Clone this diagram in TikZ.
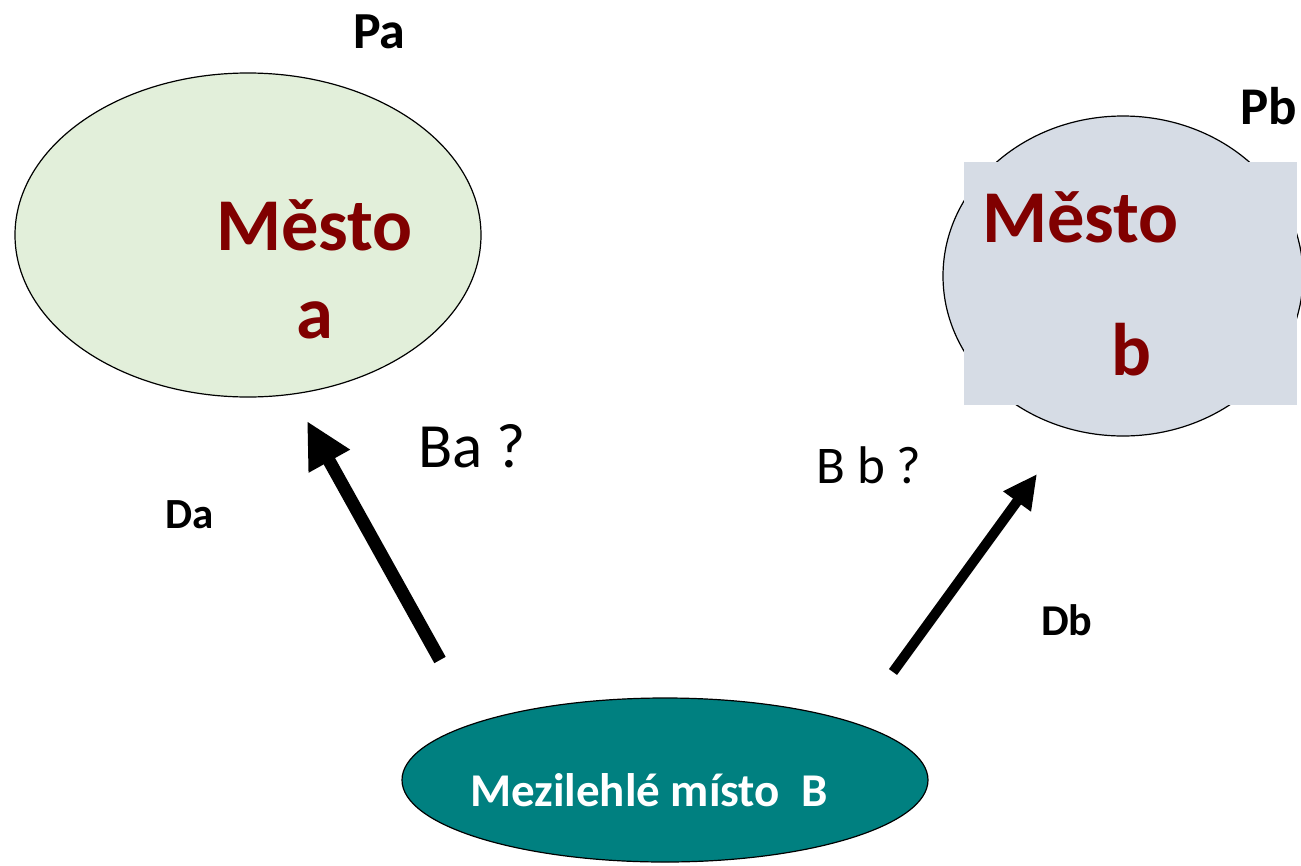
\documentclass[tikz,border=0pt]{standalone}
\usepackage{fontspec}
\setmainfont{Carlito}
\usetikzlibrary{arrows.meta,shapes.geometric}
\definecolor{agreen}{HTML}{E2EFDA}
\definecolor{bblue}{HTML}{D6DCE5}
\definecolor{mteal}{HTML}{008080}
\definecolor{dred}{HTML}{800000}
\tikzset{
  city/.style={ellipse, draw=black, line width=1.2pt, inner sep=0pt},
  lbl/.style={anchor=base west, inner sep=0pt},
  big/.style={lbl, text=dred, font=\fontsize{74.5}{80}\selectfont\bfseries},
}
\begin{document}
\begin{tikzpicture}[x=1pt,y=-1pt]
\useasboundingbox (0,0) rectangle (1301,865);
% city a
\node[city, fill=agreen, minimum width=466pt, minimum height=324pt] (A) at (248,235) {};
\node[big] (A1) at (216,250) {Město};
\node[big] (A2) at (296,338) {a};
% city b
\node[city, fill=bblue, minimum width=360pt, minimum height=320pt] (B) at (1123,276) {};
\node[fill=bblue, anchor=north west, minimum width=333pt, minimum height=243pt, inner sep=0pt] (R) at (964,162) {};
\node[big] (B1) at (982,242) {Město};
\node[big] (B2) at (1111,375) {b};
% intermediate
\node[city, fill=mteal, minimum width=526pt, minimum height=164pt] (M) at (665,780) {};
\node[lbl, text=white, font=\fontsize{47}{52}\selectfont\bfseries] (Mt) at (470,806) {Mezilehlé místo\ \ B};
% labels
\node[lbl, font=\fontsize{52}{58}\selectfont\bfseries] (Pa) at (353,48) {Pa};
\node[lbl, font=\fontsize{53}{58}\selectfont\bfseries] (Pb) at (1240,124) {Pb};
\node[lbl, font=\fontsize{63}{70}\selectfont] (Ba) at (418,467) {Ba ?};
\node[lbl, font=\fontsize{53}{60}\selectfont] (Bbq) at (816,483) {B b ?};
\node[lbl, font=\fontsize{43}{48}\selectfont\bfseries] (Da) at (165,528) {Da};
\node[lbl, font=\fontsize{44}{48}\selectfont\bfseries] (Db) at (1041,635) {Db};
% arrows
\coordinate (a1) at (440,660);
\coordinate (a2) at (307,421);
\coordinate (b1) at (893,672);
\coordinate (b2) at (1037,474);
\draw[line width=13pt, -{Triangle[length=46pt, width=44pt]}] (a1) -- (a2);
\draw[line width=10pt, -{Triangle[length=34pt, width=32pt]}] (b1) -- (b2);
\end{tikzpicture}
\end{document}
